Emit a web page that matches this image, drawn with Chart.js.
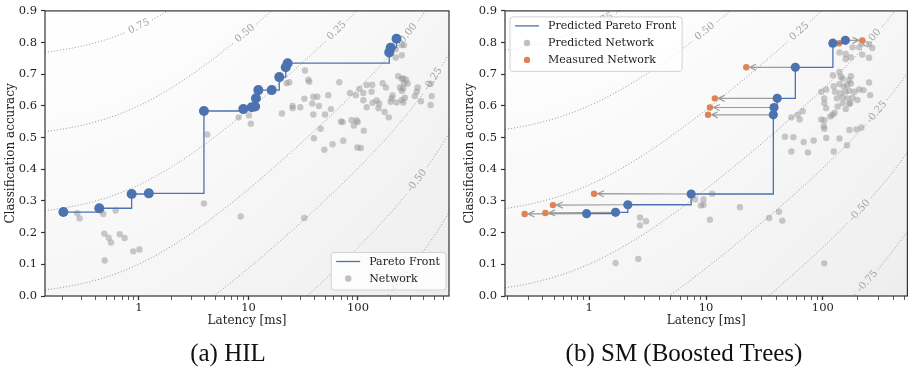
<!DOCTYPE html>
<html>
<head>
<meta charset="utf-8">
<script src="https://cdn.jsdelivr.net/npm/chart.js@4.4.1/dist/chart.umd.min.js"></script>
<style>
  body { margin: 0; background: #fff; }
  #wrap { position: relative; width: 912px; height: 377px; }
  .panel { position: absolute; top: 0; width: 456px; height: 377px; }
  .cap { position: absolute; top: 338px; width: 456px; text-align: center; line-height: 29px;
         font-family: "Liberation Serif", serif; font-size: 25px; color: #111; }
</style>
</head>
<body>
<div id="wrap">
  <div class="panel" style="left:0"><canvas id="hil"></canvas></div>
  <div class="panel" style="left:456px"><canvas id="sm"></canvas></div>
  <div class="cap" style="left:0">(a) HIL</div>
  <div class="cap" style="left:456px">(b) SM (Boosted Trees)</div>
</div>
<script>
// --- data: latency [ms], accuracy ---
var hilParetoLatency  = [0.204, 0.434, 0.857, 1.23, 3.92, 8.97, 10.7, 11.5, 11.7, 12.3, 16.3, 19.1, 21.9, 22.8, 193, 199, 225];
var hilParetoAccuracy = [0.265, 0.277, 0.322, 0.324, 0.584, 0.590, 0.596, 0.598, 0.624, 0.650, 0.650, 0.691, 0.722, 0.735, 0.769, 0.784, 0.812];

var hilNetLatency = [0.273, 0.287, 0.472, 0.45, 0.612, 0.482, 0.528, 0.555, 0.667, 0.740, 0.486, 0.887, 1.01, 3.92, 4.2, 8.49, 32.3,
  8.13, 10.1, 10.5, 22.3, 23.6, 32.8, 35.2, 35.9, 67.5, 20.2, 25.3, 25.3, 29.7, 32.4, 39.1, 42.5, 38.3, 44, 53.6, 39.1, 50, 56.6,
  45.6, 39.6, 49.3, 58.6, 73.4, 70, 72.4, 87.5, 97.3, 99.4, 91.8, 113, 98.6, 106, 84.5, 95.6, 103, 112, 120, 135, 133, 112, 136,
  148, 156, 120, 154, 175, 191, 168, 180, 199, 207, 203, 225, 251, 259, 268, 233, 251, 259, 274, 284, 263, 242, 251, 259,
  331, 344, 351, 376, 461, 471, 461, 221, 251, 263, 251, 221];
var hilNetAccuracy = [0.261, 0.245, 0.259, 0.270, 0.270, 0.197, 0.184, 0.169, 0.195, 0.183, 0.112, 0.141, 0.147, 0.292, 0.510, 0.251, 0.246,
  0.564, 0.570, 0.544, 0.672, 0.675, 0.712, 0.683, 0.676, 0.675, 0.576, 0.600, 0.593, 0.596, 0.623, 0.629, 0.629, 0.608, 0.600, 0.634, 0.573, 0.573, 0.590,
  0.528, 0.498, 0.462, 0.479, 0.490, 0.551, 0.549, 0.555, 0.555, 0.549, 0.538, 0.522, 0.469, 0.467, 0.641, 0.634, 0.654, 0.641, 0.666, 0.667, 0.645, 0.618, 0.610,
  0.617, 0.608, 0.596, 0.593, 0.581, 0.564, 0.672, 0.658, 0.613, 0.633, 0.624, 0.611, 0.619, 0.611, 0.626, 0.694, 0.686, 0.687, 0.683, 0.671, 0.671, 0.658, 0.648, 0.655,
  0.631, 0.645, 0.658, 0.615, 0.670, 0.631, 0.603, 0.779, 0.792, 0.792, 0.760, 0.753];

var smParetoLatency  = [0.949, 1.68, 2.14, 7.46, 37.7, 38.2, 40.7, 58.2, 122, 156];
var smParetoAccuracy = [0.260, 0.264, 0.288, 0.322, 0.572, 0.595, 0.624, 0.722, 0.798, 0.807];
var smMeasuredLatency  = [0.280, 0.421, 0.489, 1.10, 10.4, 10.8, 11.9, 22.1, 138, 218];
var smMeasuredAccuracy = [0.259, 0.262, 0.287, 0.323, 0.572, 0.595, 0.624, 0.722, 0.798, 0.807];

var smNetLatency = [2.72, 3.06, 2.72, 1.68, 2.63, 8.07, 9.5, 9.05, 9.5, 11.3, 10.8, 19.5, 34.7, 42.1, 45, 103,
  47.4, 56, 68.6, 83.5, 53.8, 74.6, 107, 124, 139, 161, 169, 194, 214, 53.8, 63.4, 67.2, 61, 96.9, 103, 102, 103, 121, 116, 126,
  103, 107, 103, 97, 107, 124, 139, 151, 161, 174, 127, 141, 156, 168, 186, 205, 223, 254, 249, 132, 148, 163, 180, 198, 148, 172,
  143, 122, 174, 139, 148, 168, 134, 157, 168, 139, 157, 180, 205, 218, 249, 265, 174, 157, 215, 249];
var smNetAccuracy = [0.248, 0.236, 0.223, 0.104, 0.117, 0.305, 0.305, 0.286, 0.288, 0.323, 0.241, 0.280, 0.246, 0.266, 0.238, 0.103,
  0.503, 0.501, 0.486, 0.491, 0.456, 0.453, 0.499, 0.456, 0.497, 0.476, 0.524, 0.526, 0.532, 0.564, 0.557, 0.583, 0.572, 0.557, 0.555, 0.536, 0.528, 0.572, 0.567, 0.578,
  0.609, 0.593, 0.624, 0.645, 0.652, 0.662, 0.669, 0.661, 0.666, 0.671, 0.645, 0.640, 0.645, 0.648, 0.645, 0.652, 0.650, 0.634, 0.674, 0.624, 0.627, 0.624, 0.626, 0.619, 0.609, 0.609,
  0.692, 0.697, 0.694, 0.707, 0.686, 0.681, 0.598, 0.590, 0.606, 0.769, 0.764, 0.785, 0.785, 0.762, 0.752, 0.783, 0.754, 0.748, 0.797, 0.795];

// axes
var yTicks = [0, 0.1, 0.2, 0.3, 0.4, 0.5, 0.6, 0.7, 0.8, 0.9];
var xTickValues = [1, 10, 100];
var xTickLabels = ['1', '10', '100'];
var contourLevels = [0.75, 0.5, 0.25, 0, -0.25, -0.5, -0.75];
// latency where each contour label sits
var hilLabelAt = [1.0, 9.3, 64, 288, 485, 346, 241];
var smLabelAt  = [1.3, 9.8, 63, 263, 290, 207, 241];

var BLUE = '#4c72b0', ORANGE = '#dd8452', GREY = 'rgba(150,150,150,0.5)';
var SERIF = '"DejaVu Serif", serif';

function zip(xs, ys) { return xs.map(function (x, i) { return {x: x, y: ys[i]}; }); }

// latency penalty used for the shaded score field
function penalty(lat) { return 0.31 * Math.log10(1 + lat / 0.9) + 0.00018 * lat; }

function minorTicks(min, max) {
  var out = [];
  for (var e = -1; e <= 3; e++) {
    for (var m = 1; m <= 9; m++) {
      var v = m * Math.pow(10, e);
      if (v > min && v < max) out.push(v);
    }
  }
  return out;
}

function isDecade(v) {
  return xTickValues.some(function (d) { return Math.abs(d - v) < 1e-9; });
}

function makeBackdrop(labelAt) {
  return {
    id: 'backdrop',
    beforeDatasetsDraw: function (chart) {
      var ctx = chart.ctx, a = chart.chartArea, x = chart.scales.x, y = chart.scales.y;
      var w = Math.round(a.right - a.left), h = Math.round(a.bottom - a.top);
      var off = document.createElement('canvas');
      off.width = w; off.height = h;
      var octx = off.getContext('2d');
      var img = octx.createImageData(w, h);
      var pen = [];
      for (var i = 0; i < w; i++) pen.push(penalty(x.getValueForPixel(a.left + i + 0.5)));
      for (var j = 0; j < h; j++) {
        var acc = y.getValueForPixel(a.top + j + 0.5);
        for (var i2 = 0; i2 < w; i2++) {
          var t = Math.max(0, Math.min(1, (acc - pen[i2] + 1.0) / 1.9));
          var g = Math.round(237 + 18 * t);
          var k = (j * w + i2) * 4;
          img.data[k] = g; img.data[k + 1] = g; img.data[k + 2] = g; img.data[k + 3] = 255;
        }
      }
      octx.putImageData(img, 0, 0);
      ctx.drawImage(off, a.left, a.top);

      ctx.save();
      ctx.beginPath();
      ctx.rect(a.left, a.top, a.right - a.left, a.bottom - a.top);
      ctx.clip();
      ctx.font = '10px ' + SERIF;
      contourLevels.forEach(function (level, n) {
        var txt = level.toFixed(2);
        var lx = x.getPixelForValue(labelAt[n]);
        var ly = y.getPixelForValue(level + penalty(labelAt[n]));
        var ly2 = y.getPixelForValue(level + penalty(x.getValueForPixel(lx + 2)));
        var ang = Math.atan2(ly2 - ly, 2);
        var r = ctx.measureText(txt).width / 2 + 3;
        ctx.setLineDash([1, 2]);
        ctx.strokeStyle = '#8c8c8c';
        ctx.lineWidth = 0.9;
        ctx.beginPath();
        var down = false;
        for (var px = a.left; px <= a.right; px += 1) {
          var py = y.getPixelForValue(level + penalty(x.getValueForPixel(px)));
          if (Math.hypot(px - lx, py - ly) < r) { down = false; continue; }
          if (!down) { ctx.moveTo(px, py); down = true; } else ctx.lineTo(px, py);
        }
        ctx.stroke();
        ctx.save();
        ctx.setLineDash([]);
        ctx.translate(lx, ly);
        ctx.rotate(ang);
        ctx.fillStyle = '#a3a3a3';
        ctx.textAlign = 'center';
        ctx.textBaseline = 'middle';
        ctx.fillText(txt, 0, 0);
        ctx.restore();
      });
      ctx.restore();
    }
  };
}

function makeArrows(fx, fy, tx, ty) {
  return {
    id: 'arrows',
    beforeDatasetsDraw: function (chart) {
      var ctx = chart.ctx, x = chart.scales.x, y = chart.scales.y;
      ctx.save();
      ctx.strokeStyle = 'rgba(140,140,140,0.85)';
      ctx.lineWidth = 1.2;
      for (var i = 0; i < fx.length; i++) {
        var x0 = x.getPixelForValue(fx[i]), y0 = y.getPixelForValue(fy[i]);
        var x1 = x.getPixelForValue(tx[i]), y1 = y.getPixelForValue(ty[i]);
        var ang = Math.atan2(y1 - y0, x1 - x0);
        var ex = x1 - Math.cos(ang) * 3.5, ey = y1 - Math.sin(ang) * 3.5;
        ctx.beginPath();
        ctx.moveTo(x0, y0);
        ctx.lineTo(ex, ey);
        ctx.moveTo(ex - Math.cos(ang - 0.45) * 7, ey - Math.sin(ang - 0.45) * 7);
        ctx.lineTo(ex, ey);
        ctx.lineTo(ex - Math.cos(ang + 0.45) * 7, ey - Math.sin(ang + 0.45) * 7);
        ctx.stroke();
      }
      ctx.restore();
    }
  };
}

// spines + short minor ticks drawn on top
var framePlugin = {
  id: 'frame',
  afterDatasetsDraw: function (chart) {
    var ctx = chart.ctx, a = chart.chartArea;
    ctx.save();
    ctx.strokeStyle = '#333';
    ctx.lineWidth = 1.2;
    ctx.strokeRect(a.left, a.top, a.right - a.left, a.bottom - a.top);
    ctx.restore();
  }
};

function makeLegend(items, corner) {
  return {
    id: 'boxLegend',
    afterDraw: function (chart) {
      var ctx = chart.ctx, a = chart.chartArea;
      ctx.save();
      ctx.font = '11px ' + SERIF;
      var tw = Math.max.apply(null, items.map(function (it) { return ctx.measureText(it.text).width; }));
      var w = 38 + tw + 6;
      var h = 9 + 17 * (items.length - 1) + 11.5;
      var x0 = corner === 'br' ? a.right - 3 - w : a.left + 5;
      var y0 = corner === 'br' ? a.bottom - 6 - h : a.top + 6;
      ctx.beginPath();
      ctx.roundRect(x0, y0, w, h, 3);
      ctx.fillStyle = 'rgba(255,255,255,0.8)';
      ctx.fill();
      ctx.strokeStyle = '#d2d2d2';
      ctx.lineWidth = 1;
      ctx.stroke();
      items.forEach(function (it, i) {
        var cy = y0 + 9 + 17 * i;
        if (it.kind === 'line') {
          ctx.strokeStyle = it.color;
          ctx.lineWidth = 1.3;
          ctx.beginPath();
          ctx.moveTo(x0 + 5, cy);
          ctx.lineTo(x0 + 29, cy);
          ctx.stroke();
        } else {
          ctx.fillStyle = it.color;
          ctx.beginPath();
          ctx.arc(x0 + 17, cy, 3.2, 0, Math.PI * 2);
          ctx.fill();
        }
        ctx.fillStyle = '#222';
        ctx.textBaseline = 'middle';
        ctx.fillText(it.text, x0 + 38, cy + 0.5);
      });
      ctx.restore();
    }
  };
}

function axes(xMin, xMax, yWidth, titlePad) {
  var font = {family: SERIF, size: 11.5};
  return {
    x: {
      type: 'logarithmic', min: xMin, max: xMax,
      afterBuildTicks: function (s) { s.ticks = minorTicks(xMin, xMax).map(function (v) { return {value: v}; }); },
      afterFit: function (s) { s.height = 32; },
      border: {display: false},
      grid: {drawOnChartArea: false, tickLength: 4, tickColor: '#333',
        tickWidth: function (c) { return isDecade(c.tick.value) ? 1.3 : 0.8; }},
      ticks: {autoSkip: false, maxRotation: 0, padding: 1, font: font, color: '#222',
        callback: function (v) {
          for (var i = 0; i < xTickValues.length; i++) if (Math.abs(xTickValues[i] - v) < 1e-9) return xTickLabels[i];
          return '';
        }},
      title: {display: true, text: 'Latency [ms]', color: '#222', font: {family: SERIF, size: 12}, padding: {top: 0, bottom: 0}}
    },
    y: {
      min: 0, max: 0.9,
      afterBuildTicks: function (s) { s.ticks = yTicks.map(function (v) { return {value: v}; }); },
      afterFit: function (s) { s.width = yWidth; },
      border: {display: false},
      grid: {drawOnChartArea: false, tickLength: 4, tickColor: '#333', tickWidth: 1.2},
      ticks: {padding: 4, font: font, color: '#222', callback: function (v) { return Number(v).toFixed(1); }},
      title: {display: true, text: 'Classification accuracy', color: '#222', font: {family: SERIF, size: 12}, padding: {top: titlePad, bottom: 0}}
    }
  };
}

new Chart(document.getElementById('hil'), {
  type: 'scatter',
  data: {
    datasets: [{
      label: 'Pareto Front',
      data: zip(hilParetoLatency, hilParetoAccuracy),
      showLine: true, stepped: true,
      borderColor: BLUE, borderWidth: 1.3,
      pointRadius: 5, pointBackgroundColor: BLUE, pointBorderWidth: 0,
      order: 1
    }, {
      label: 'Network',
      data: zip(hilNetLatency, hilNetAccuracy),
      pointRadius: 3.2, pointBackgroundColor: GREY, pointBorderWidth: 0,
      order: 2
    }]
  },
  options: {
    animation: false,
    responsive: true,
    maintainAspectRatio: false,
    layout: {padding: {top: 5, right: 7, bottom: 49, left: 0}},
    scales: axes(0.1386, 678, 45, 4),
    plugins: {legend: {display: false}, tooltip: {enabled: false}}
  },
  plugins: [makeBackdrop(hilLabelAt), framePlugin,
    makeLegend([{text: 'Pareto Front', kind: 'line', color: BLUE}, {text: 'Network', kind: 'dot', color: 'rgba(150,150,150,0.6)'}], 'br')]
});

new Chart(document.getElementById('sm'), {
  type: 'scatter',
  data: {
    datasets: [{
      label: 'Predicted Pareto Front',
      data: zip(smParetoLatency, smParetoAccuracy),
      showLine: true, stepped: true,
      borderColor: BLUE, borderWidth: 1.3,
      pointRadius: 4.6, pointBackgroundColor: BLUE, pointBorderWidth: 0,
      order: 1
    }, {
      label: 'Measured Network',
      data: zip(smMeasuredLatency, smMeasuredAccuracy),
      pointRadius: 3.2, pointBackgroundColor: ORANGE, pointBorderWidth: 0,
      order: 2
    }, {
      label: 'Predicted Network',
      data: zip(smNetLatency, smNetAccuracy),
      pointRadius: 3.2, pointBackgroundColor: GREY, pointBorderWidth: 0,
      order: 3
    }]
  },
  options: {
    animation: false,
    responsive: true,
    maintainAspectRatio: false,
    layout: {padding: {top: 5, right: 2, bottom: 49, left: 0}},
    scales: axes(0.19, 530, 49, 7),
    plugins: {legend: {display: false}, tooltip: {enabled: false}}
  },
  plugins: [makeBackdrop(smLabelAt), makeArrows(smParetoLatency, smParetoAccuracy, smMeasuredLatency, smMeasuredAccuracy), framePlugin,
    makeLegend([{text: 'Predicted Pareto Front', kind: 'line', color: BLUE},
                {text: 'Predicted Network', kind: 'dot', color: 'rgba(150,150,150,0.6)'},
                {text: 'Measured Network', kind: 'dot', color: ORANGE}], 'tl')]
});
</script>
</body>
</html>
